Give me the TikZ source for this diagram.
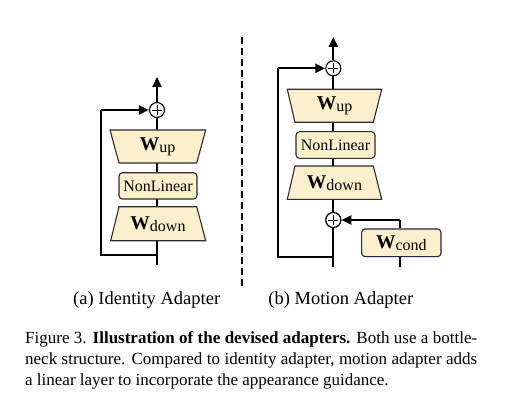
\documentclass[tikz,border=0pt]{standalone}
\usepackage{fontspec}
\setmainfont{Liberation Serif}
\usetikzlibrary{arrows.meta}
\definecolor{boxfill}{HTML}{FCEFCB}
\definecolor{boxline}{HTML}{2B2B2B}
\definecolor{condline}{HTML}{1E2A45}
\tikzset{
  conn/.style={line width=2.2pt, black},
  arr/.style={conn, -{Triangle[length=10pt,width=9pt]}},
  plusnode/.style={circle, draw=black, line width=1.1pt, fill=white, minimum size=15pt, inner sep=0pt},
  rbox/.style={draw=boxline, line width=1.1pt, fill=boxfill, rounded corners=3.5pt},
  trap/.style={draw=boxline, line width=1.1pt, fill=boxfill},
  boxtext/.style={font=\fontsize{16}{18}\selectfont, inner sep=0pt},
  lbl/.style={font=\fontsize{18.5}{22}\selectfont, inner sep=0pt}
}
\newcommand{\Wlab}[1]{\textbf{\fontsize{19.5}{20}\selectfont W}\raisebox{-0.3ex}{#1}}
\newcommand{\plussign}[1]{\draw[line width=0.8pt] (#1.center) ++(-5,0) -- ++(10,0) (#1.center) ++(0,-5) -- ++(0,10);}
\begin{document}
\begin{tikzpicture}[x=1pt,y=-1pt]
\useasboundingbox (0,0) rectangle (505,406);
% ---------- (a) ----------
\node[plusnode] (aplus) at (157,110) {};
\coordinate (aTop) at (157,77);
\coordinate (aBot) at (157,265);
\coordinate (aSkip) at (157,255);
\coordinate (aL1) at (101,255);
\coordinate (aL2) at (101,110);
\draw[conn] (aBot) -- (aplus.south);
\draw[trap] (110,130) -- (205.7,130) -- (196.7,163) -- (119,163) -- cycle;
\node[boxtext] (aup) at (157.5,147) {\Wlab{up}};
\draw[rbox] (119,172.7) rectangle (197,199);
\node[boxtext] (anl) at (158,186) {NonLinear};
\draw[trap] (119,206.7) -- (196.7,206.7) -- (205.7,240.7) -- (110.7,240.7) -- cycle;
\node[boxtext] (adown) at (158,224) {\Wlab{down}};
\plussign{aplus}
\draw[arr] (aplus.north) -- (aTop);
\draw[conn] (aSkip) -- (aL1) -- (aL2);
\draw[arr] (aL2) -- (aplus.west);
% ---------- divider ----------
\coordinate (dT) at (241.7,37);
\coordinate (dB) at (241.7,287);
\draw[line width=2.2pt, dash pattern=on 7pt off 4pt] (dT) -- (dB);
% ---------- (b) ----------
\node[plusnode] (bplus) at (333.3,68.3) {};
\node[plusnode] (bplus2) at (333.3,220) {};
\coordinate (bTop) at (333.3,37);
\coordinate (bBot) at (333.3,266.7);
\coordinate (bSkip) at (333.3,256.7);
\coordinate (bL1) at (278.3,256.7);
\coordinate (bL2) at (278.3,68.3);
\draw[conn] (bBot) -- (bplus.south);
\draw[trap] (287.3,89.3) -- (381.7,89.3) -- (373.3,122.3) -- (295,122.3) -- cycle;
\node[boxtext] (bup) at (334.5,106) {\Wlab{up}};
\draw[rbox] (296,131.7) rectangle (375,158.3);
\node[boxtext] (bnl) at (335.5,145) {NonLinear};
\draw[trap] (295,166) -- (373.3,166) -- (381.7,199.3) -- (287.3,199.3) -- cycle;
\node[boxtext] (bdown) at (334.5,183) {\Wlab{down}};
\node[plusnode] at (bplus2) {};
\plussign{bplus}
\plussign{bplus2}
\draw[arr] (bplus.north) -- (bTop);
\draw[conn] (bSkip) -- (bL1) -- (bL2);
\draw[arr] (bL2) -- (bplus.west);
% Wcond
\coordinate (cBot) at (400,266.7);
\coordinate (cTurn) at (400,220);
\draw[conn] (cBot) -- (400,250);
\node[rbox, draw=condline, minimum width=79.3pt, minimum height=27.7pt, inner sep=0pt] (cond) at (401.3,242.8) {};
\node[boxtext] (condt) at (cond.center) {\Wlab{cond}};
\draw[conn] (cond.north-|cTurn) -- (cTurn);
\draw[arr] (cTurn) -- (bplus2.east);
% ---------- labels ----------
\node[lbl] (la) at (146.7,300) {(a) Identity Adapter};
\node[lbl] (lb) at (340.8,300) {(b) Motion Adapter};
\node[anchor=north west, inner sep=0pt, text width=452pt, align=justify,
      font=\fontsize{17}{20.8}\selectfont] (cap) at (25,331.5)
 {Figure 3. \textbf{Illustration of the devised adapters.} Both use a bottle-\linebreak
  neck structure. Compared to identity adapter, motion adapter adds\linebreak
  a linear layer to incorporate the appearance guidance.};
\end{tikzpicture}
\end{document}
